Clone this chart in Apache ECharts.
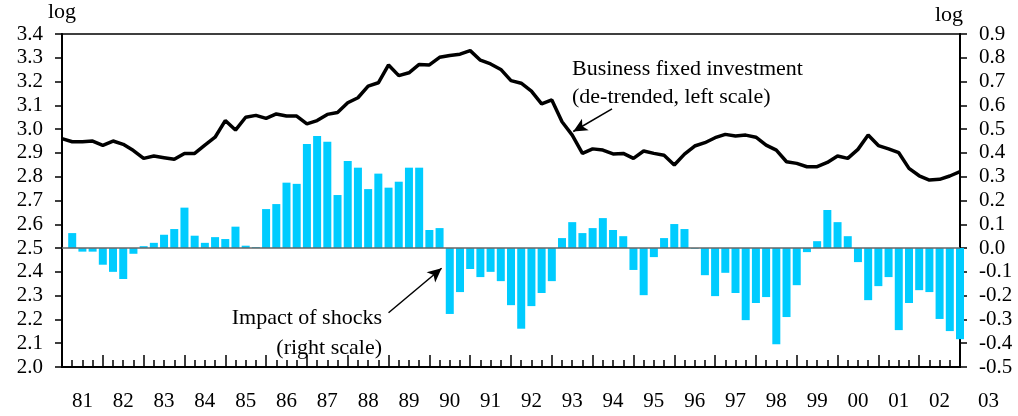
<!DOCTYPE html>
<html>
<head>
<meta charset="utf-8">
<script src="https://cdn.jsdelivr.net/npm/echarts@6/dist/echarts.min.js"></script>
<style>
  html, body { margin: 0; padding: 0; background: #fff; }
  #chart { width: 1018px; height: 416px; }
</style>
</head>
<body>
<div id="chart"></div>
<script>
// year labels, centred under each year span; the last one sits past the right axis
const years = ['81', '82', '83', '84', '85', '86', '87', '88', '89', '90', '91',
  '92', '93', '94', '95', '96', '97', '98', '99', '00', '01', '02']
const lastYear = '03'

// business fixed investment, de-trended (log, left scale), one value per quarter end,
// starting at the end of 1980
const investment = [
  2.96, 2.947, 2.947, 2.95, 2.932, 2.95, 2.936, 2.91, 2.877, 2.887,
  2.88, 2.873, 2.898, 2.898, 2.933, 2.966, 3.036, 2.996, 3.05, 3.058,
  3.045, 3.064, 3.055, 3.055, 3.022, 3.036, 3.062, 3.07, 3.111, 3.132,
  3.181, 3.195, 3.27, 3.225, 3.237, 3.272, 3.27, 3.302, 3.31, 3.315,
  3.33, 3.29, 3.274, 3.251, 3.204, 3.193, 3.16, 3.106, 3.123, 3.031,
  2.975, 2.898, 2.917, 2.912, 2.896, 2.898, 2.877, 2.908, 2.898, 2.89,
  2.849, 2.895, 2.929, 2.943, 2.964, 2.978, 2.971, 2.975, 2.966, 2.933,
  2.912, 2.863, 2.856, 2.842, 2.842, 2.86, 2.887, 2.877, 2.915, 2.975,
  2.931, 2.917, 2.901, 2.835, 2.804, 2.786, 2.789, 2.803, 2.821
]

// impact of shocks (right scale), 81Q1 .. 02Q4
const shocks = [
  0.063, -0.015, -0.015, -0.07, -0.1, -0.13, -0.024, 0.008, 0.022, 0.056,
  0.08, 0.17, 0.052, 0.022, 0.046, 0.038, 0.09, 0.01, 0.004, 0.164,
  0.185, 0.275, 0.27, 0.438, 0.471, 0.447, 0.223, 0.366, 0.338, 0.248,
  0.313, 0.254, 0.279, 0.338, 0.338, 0.076, 0.084, -0.277, -0.185, -0.088,
  -0.122, -0.1, -0.139, -0.24, -0.339, -0.244, -0.189, -0.139, 0.042, 0.109,
  0.063, 0.084, 0.126, 0.076, 0.05, -0.092, -0.198, -0.038, 0.042, 0.101,
  0.08, -0.003, -0.114, -0.202, -0.104, -0.189, -0.303, -0.231, -0.206, -0.404,
  -0.29, -0.156, -0.017, 0.029, 0.16, 0.109, 0.05, -0.059, -0.219, -0.16,
  -0.122, -0.345, -0.231, -0.177, -0.185, -0.298, -0.349, -0.383
]

const serif = '"Liberation Serif", "Times New Roman", serif'
const black = '#000'

const chart = echarts.init(document.getElementById('chart'))

// quarter index 0 = end of 1980, bars sit on quarter ends 1..88
const lineData = investment.map((v, i) => [i, v])
const barData = shocks.map((v, i) => [i + 1, v])

const yAxisBase = {
  type: 'value',
  interval: 0.1,
  splitLine: { show: false },
  axisLine: { show: true, lineStyle: { color: black, width: 2 } },
  axisTick: { show: true, inside: false, length: 7, lineStyle: { color: black, width: 1.5 } },
  axisLabel: {
    color: black, fontFamily: serif, fontSize: 21, margin: 19,
    formatter: v => v.toFixed(1)
  },
  name: 'log',
  nameLocation: 'end',
  nameGap: 8,
  nameTextStyle: { color: black, fontFamily: serif, fontSize: 22 }
}

const option = {
  animation: false,
  backgroundColor: '#fff',
  grid: {
    left: 62, right: 58, top: 34, bottom: 49,
    containLabel: false,
    outerBoundsMode: 'none',
    show: true, borderColor: black, borderWidth: 1.5
  },
  xAxis: [
    {
      type: 'value',
      min: 0,
      max: 88,
      interval: 4,
      position: 'bottom',
      splitLine: { show: false },
      axisLine: { show: true, onZero: false, lineStyle: { color: black, width: 2 } },
      axisTick: { show: true, inside: true, length: 12, lineStyle: { color: black, width: 1.5 } },
      minorTick: { show: true, splitNumber: 4, length: 7, lineStyle: { color: black, width: 1.5 } },
      axisLabel: { show: false }
    },
    {
      type: 'category',
      data: years,
      boundaryGap: true,
      position: 'bottom',
      axisLine: { show: false },
      axisTick: { show: false },
      axisLabel: { color: black, fontFamily: serif, fontSize: 21, margin: 24, interval: 0 }
    }
  ],
  yAxis: [
    Object.assign({}, yAxisBase, { position: 'left', min: 2.0, max: 3.4 }),
    Object.assign({}, yAxisBase, {
      position: 'right', min: -0.5, max: 0.9,
      nameTextStyle: { color: black, fontFamily: serif, fontSize: 22, align: 'right', padding: [0, -3, 0, 0] }
    })
  ],
  series: [
    {
      name: 'Impact of shocks',
      type: 'bar',
      xAxisIndex: 0,
      yAxisIndex: 1,
      data: barData,
      barWidth: 8,
      clip: true,
      itemStyle: { color: '#00CCFF' },
      z: 2,
      markLine: {
        silent: true,
        symbol: 'none',
        label: { show: false },
        lineStyle: { color: '#666', width: 1.5, type: 'solid' },
        data: [{ yAxis: 0 }]
      }
    },
    {
      name: 'Business fixed investment',
      type: 'line',
      xAxisIndex: 0,
      yAxisIndex: 0,
      data: lineData,
      symbol: 'none',
      lineStyle: { color: black, width: 3.5 },
      z: 3,
      // annotation arrows, in axis coordinates
      markLine: {
        silent: true,
        symbol: ['none', 'arrow'],
        symbolSize: [10, 14],
        label: { show: false },
        lineStyle: { color: black, width: 1.5, type: 'solid' },
        data: [
          [{ coord: [53.9, 3.085] }, { coord: [50.1, 2.99] }],
          [{ coord: [32.0, 2.228] }, { coord: [37.2, 2.415] }]
        ]
      }
    }
  ],
  graphic: [
    {
      type: 'text',
      left: 572,
      top: 55,
      style: {
        text: 'Business fixed investment\n(de-trended, left scale)',
        font: '22px ' + serif,
        fill: black,
        lineHeight: 28
      }
    },
    {
      type: 'text',
      right: 636,
      top: 303,
      style: {
        text: 'Impact of shocks\n(right scale)',
        font: '22px ' + serif,
        fill: black,
        lineHeight: 30,
        align: 'right',
        textAlign: 'right'
      }
    },
    {
      type: 'text',
      left: 978,
      top: 391,
      style: { text: lastYear, font: '21px ' + serif, fill: black }
    }
  ]
}

chart.setOption(option)
</script>
</body>
</html>
